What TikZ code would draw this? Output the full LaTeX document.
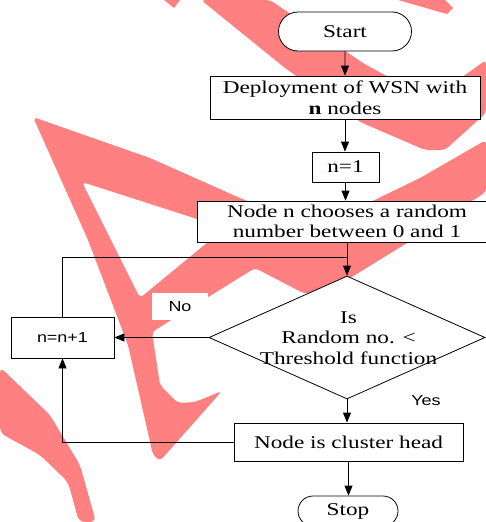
\documentclass[tikz,border=0pt]{standalone}
\usepackage{fontspec}
\setmainfont[FakeStretch=1.29]{Liberation Serif}
\newfontfamily\tagfont[FakeStretch=1.24]{Liberation Sans}
\usetikzlibrary{shapes.geometric,shapes.misc,arrows.meta}
\definecolor{wmred}{RGB}{255,128,128}
\begin{document}
\begin{tikzpicture}[x=1pt,y={(0pt,-1pt)},
  every node/.style={font=\fontsize{18}{20.5}\selectfont},
  box/.style={draw,fill=white,line width=0.8pt,inner sep=0pt,align=center},
  term/.style={box,rounded rectangle},
  decision/.style={box,diamond},
  flow/.style={line width=0.8pt,-{Triangle[length=10pt,width=8pt]}},
  link/.style={line width=0.8pt},
  tag/.style={font=\tagfont\fontsize{14.5}{17}\selectfont,inner sep=0pt}]
  \useasboundingbox (0,0) rectangle (486,522);
  % watermark
  \fill[wmred,even odd rule,rounded corners=4pt]
    (33,117) -- (150,158) -- (240,198) -- (305,224) -- (350,212) -- (420,178) -- (486,140)
    -- (486,192) -- (407,243) -- (347,280) -- (305,294) -- (255,268) -- (152,332)
    -- (160,385) -- (178,403) -- (195,402) -- (222,391) -- (160,461) -- (153,455)
    -- (128,345) -- (88,240) -- cycle
    (82,182) -- (225,228) -- (140,298) -- cycle;
  \fill[wmred,rounded corners=4pt] (201,0) -- (270,0) -- (363,63) -- (430,100) -- (486,60)
    -- (486,113) -- (445,150) -- (425,150) -- (360,122) -- (285,68) -- cycle;
  \fill[wmred] (398,0) -- (445,0) -- (453,8) -- (447,14) -- cycle;
  \fill[wmred] (164,0) -- (180,0) -- (174,8) -- cycle;
  \fill[wmred,rounded corners=6pt] (0,367) -- (50,415) -- (80,465) -- (96,522) -- (79,522)
    -- (68,482) -- (40,455) -- (0,433) -- cycle;
  % flowchart
  \node[term,minimum width=133pt,minimum height=39pt] (start) at (345,31.5) {Start};
  \node[box,minimum width=270pt,minimum height=43pt] (deploy) at (345,97.5) {Deployment of WSN with\\\textbf{n} nodes};
  \node[box,minimum width=67pt,minimum height=30pt] (init) at (345.5,167) {n=1};
  \node[box,minimum width=300pt,minimum height=41pt] (choose) at (347,221.5) {Node n chooses a random\\number between 0 and 1};
  \node[decision,minimum width=276pt,minimum height=123pt] (decide) at (347,337.5) {};
  \node[align=center,inner sep=0pt] (decidetext) at (348.5,338) {Is\\Random no. <\\Threshold function};
  \node[box,minimum width=103pt,minimum height=41pt,font=\tagfont\fontsize{14.5}{17}\selectfont] (incr) at (62.5,337.5) {n=n+1};
  \node[box,minimum width=229pt,minimum height=38pt] (head) at (348.5,442) {Node is cluster head};
  \node[term,minimum width=100pt,minimum height=30pt] (stop) at (348,511) {Stop};
  \node[tag,fill=white,minimum width=56pt,minimum height=27pt] (no) at (180,306.5) {No};
  \node[tag] (yes) at (426,401) {Yes};
  \coordinate (merge) at (347,257);
  \draw[flow] (start) -- (start.south |- deploy.north);
  \draw[flow] (deploy) -- (deploy.south |- init.north);
  \draw[flow] (init) -- (init.south |- choose.north);
  \draw[flow] (choose) -- (decide.north);
  \draw[link] (incr.north) |- (merge);
  \draw[flow] (decide.west) -- (incr.east);
  \draw[flow] (decide.south) -- (decide.south |- head.north);
  \draw[flow] (head.west) -| (incr.south);
  \draw[flow] (head.south) -- (head.south |- stop.north);
\end{tikzpicture}
\end{document}
